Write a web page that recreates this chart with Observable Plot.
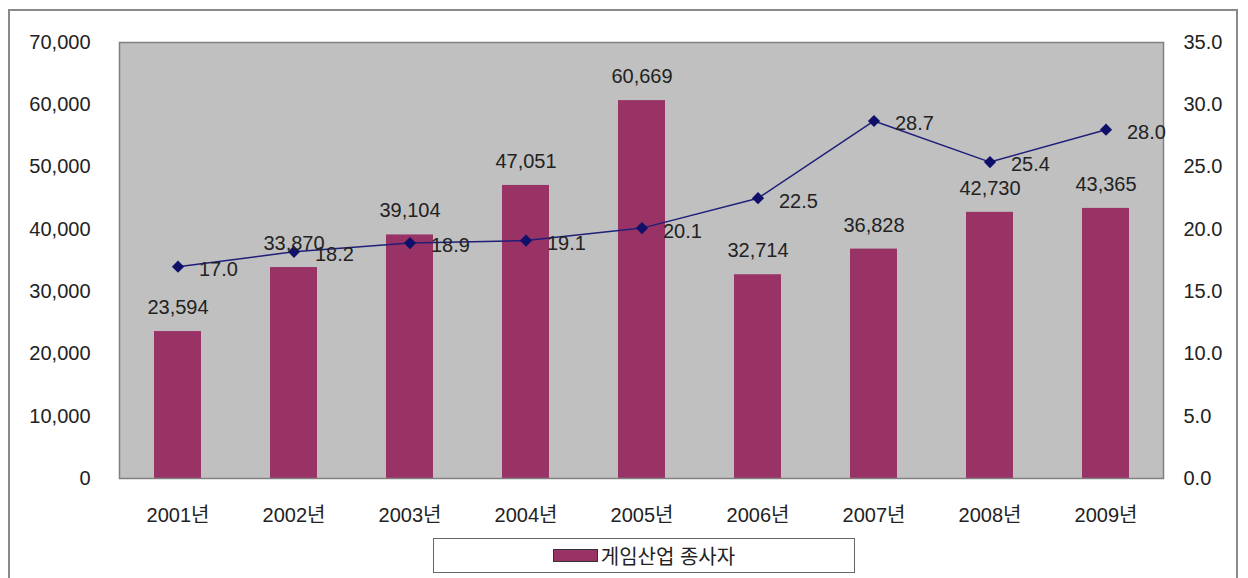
<!DOCTYPE html>
<html>
<head>
<meta charset="utf-8">
<script src="https://cdn.jsdelivr.net/npm/d3@7"></script>
<script src="https://cdn.jsdelivr.net/npm/@observablehq/plot@0.6"></script>
<style>
  html, body { margin: 0; padding: 0; background: #fff; }
  #wrap { position: relative; width: 1248px; height: 578px; overflow: hidden; font-family: "Liberation Sans", "Noto Sans CJK KR", sans-serif; }
  #border { position: absolute; left: 8px; top: 9px; width: 1230px; height: 640px; border: 2px solid #8a8a8a; box-sizing: border-box; }
  #chart { position: absolute; left: 0; top: 0; }
  #legend { position: absolute; left: 433px; top: 538px; width: 422px; height: 35px; border: 1.5px solid #666; box-sizing: border-box; background: #fff; display: flex; align-items: center; justify-content: center; font-size: 20px; color: #222; }
  #legend .sw { display: inline-block; width: 43px; height: 11px; background: #993366; border: 1px solid #333; margin-right: 3px; }
</style>
</head>
<body>
<div id="wrap">
  <div id="border"></div>
  <div id="chart"></div>
  <div id="legend"><span class="sw"></span><span>게임산업 종사자</span></div>
</div>
<script>
const years = ["2001년","2002년","2003년","2004년","2005년","2006년","2007년","2008년","2009년"];
const workers = [23594, 33870, 39104, 47051, 60669, 32714, 36828, 42730, 43365];
const rates = [17.0, 18.2, 18.9, 19.1, 20.1, 22.5, 28.7, 25.4, 28.0];
const leftTicks = [0, 10000, 20000, 30000, 40000, 50000, 60000, 70000];
const ratio = 70000 / 35; // right axis 0–35 mapped onto left 0–70,000

const data = years.map((y, i) => ({year: y, workers: workers[i], rate: rates[i]}));
const fmt = d3.format(",");
const font = "Liberation Sans, Noto Sans CJK KR, sans-serif";

const chart = Plot.plot({
  width: 1248,
  height: 578,
  marginLeft: 119,
  marginRight: 85,
  marginTop: 42,
  marginBottom: 100,
  style: {fontFamily: font, fontSize: "20px", color: "#222", background: "transparent"},
  x: {domain: years, paddingInner: 0.595, paddingOuter: 0.2975, label: null},
  y: {domain: [0, 70000], label: null},
  marks: [
    Plot.frame({fill: "#c0c0c0", stroke: null}),
    Plot.barY(data, {x: "year", y: "workers", fill: "#993366"}),
    Plot.frame({stroke: "#808080", strokeWidth: 1.5}),
    Plot.axisX({tickSize: 0, tickPadding: 29, fontSize: 20, label: null}),
    Plot.axisY({ticks: leftTicks, tickFormat: fmt, tickSize: 0, tickPadding: 29, fontSize: 20, label: null}),
    Plot.axisY({anchor: "right", ticks: leftTicks, tickFormat: d => (d / ratio).toFixed(1), tickSize: 0, tickPadding: 20, fontSize: 20, label: null}),
    Plot.line(data, {x: "year", y: d => d.rate * ratio, stroke: "#1f1f7a", strokeWidth: 1.5}),
    Plot.dot(data, {x: "year", y: d => d.rate * ratio, symbol: d3.symbolDiamond2, fill: "#10106a", stroke: "none", r: 5.5}),
    Plot.text(data, {x: "year", y: "workers", text: d => fmt(d.workers), dy: -24, fontSize: 20, fill: "#222"}),
    Plot.text(data, {x: "year", y: d => d.rate * ratio, text: d => d.rate.toFixed(1), textAnchor: "start", dx: 21, dy: 3, fontSize: 20, fill: "#222"})
  ]
});
document.getElementById("chart").appendChild(chart);
</script>
</body>
</html>
